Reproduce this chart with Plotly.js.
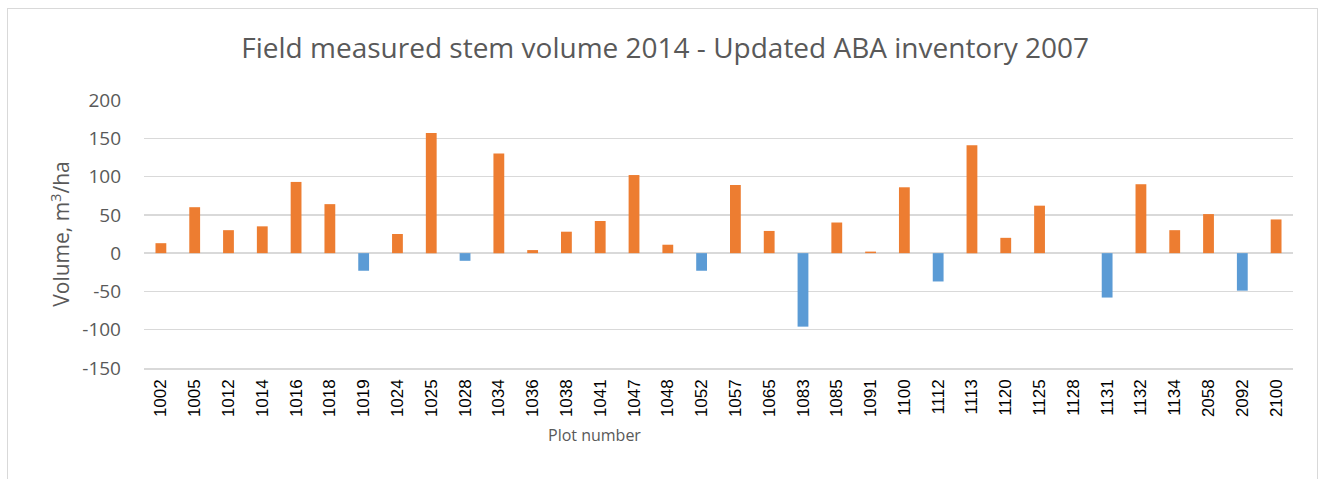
<!DOCTYPE html>
<html>
<head>
<meta charset="utf-8">
<script src="https://cdn.plot.ly/plotly-3.0.1.min.js"></script>
<style>
  html, body { margin: 0; padding: 0; background: #fff; }
  #wrap { position: relative; width: 1325px; height: 479px; overflow: hidden; }
  #chart { position: absolute; left: 0; top: 0; width: 1325px; height: 479px; }
  #frame { position: absolute; left: 7px; top: 8px; width: 1311px; height: 500px;
           border: 1px solid #d9d9d9; box-sizing: border-box; pointer-events: none; }
</style>
</head>
<body>
<div id="wrap">
  <div id="chart"></div>
  <div id="frame"></div>
</div>
<script>
const plots = ["1002","1005","1012","1014","1016","1018","1019","1024","1025","1028",
  "1034","1036","1038","1041","1047","1048","1052","1057","1065","1083",
  "1085","1091","1100","1112","1113","1120","1125","1128","1131","1132",
  "1134","2058","2092","2100"];
const volumeDiff = [13, 60, 30, 35, 93, 64, -23, 25, 157, -10,
  130, 4, 28, 42, 102, 11, -23, 89, 29, -96,
  40, 2, 86, -37, 141, 20, 62, 0, -58, 90,
  30, 51, -49, 44];
const yTicks = [-150, -100, -50, 0, 50, 100, 150, 200];

const POS = '#ED7D31', NEG = '#5B9BD5';
const colors = volumeDiff.map(v => v < 0 ? NEG : POS);

const trace = {
  type: 'bar',
  x: plots,
  y: volumeDiff,
  marker: { color: colors, line: { width: 0 } },
  hoverinfo: 'x+y'
};

const layout = {
  width: 1325, height: 479,
  margin: { l: 144, r: 32, t: 100, b: 111, pad: 0 },
  paper_bgcolor: 'rgba(0,0,0,0)',
  plot_bgcolor: '#fff',
  showlegend: false,
  bargap: 0.68,
  title: {
    text: 'Field measured stem volume 2014 - Updated ABA inventory 2007',
    font: { family: 'Open Sans, sans-serif', size: 28, color: '#595959' },
    x: 0.502, xanchor: 'center', y: 0.9, yanchor: 'middle', yref: 'container'
  },
  xaxis: {
    type: 'category',
    tickangle: -90,
    tickfont: { family: 'Liberation Sans, Arial, sans-serif', size: 17, color: '#000' },
    showgrid: false, zeroline: false,
    showline: true, linecolor: '#d9d9d9', linewidth: 1.5,
    ticks: '', ticklen: 0,
    ticklabelstandoff: 3,
    automargin: false
  },
  yaxis: {
    range: [-150, 200],
    tickvals: yTicks,
    ticktext: yTicks.map(String),
    tickfont: { family: 'Open Sans, sans-serif', size: 19, color: '#595959' },
    showgrid: true, gridcolor: '#d9d9d9', gridwidth: 1.5,
    zeroline: true, zerolinecolor: '#d9d9d9', zerolinewidth: 1.5,
    showline: false, ticks: '',
    ticklabelstandoff: 22,
    title: {
      text: 'Volume, m<sup>3</sup>/ha',
      font: { family: 'Open Sans, sans-serif', size: 21, color: '#595959' },
      standoff: 6
    },
    automargin: false
  },
  annotations: [{
    text: 'Plot number',
    xref: 'paper', yref: 'paper',
    x: 0.392, y: -0.25, xanchor: 'center', yanchor: 'middle',
    showarrow: false,
    font: { family: 'Open Sans, sans-serif', size: 16, color: '#595959' }
  }]
};

Plotly.newPlot('chart', [trace], layout, { displayModeBar: false, staticPlot: true });
</script>
</body>
</html>
